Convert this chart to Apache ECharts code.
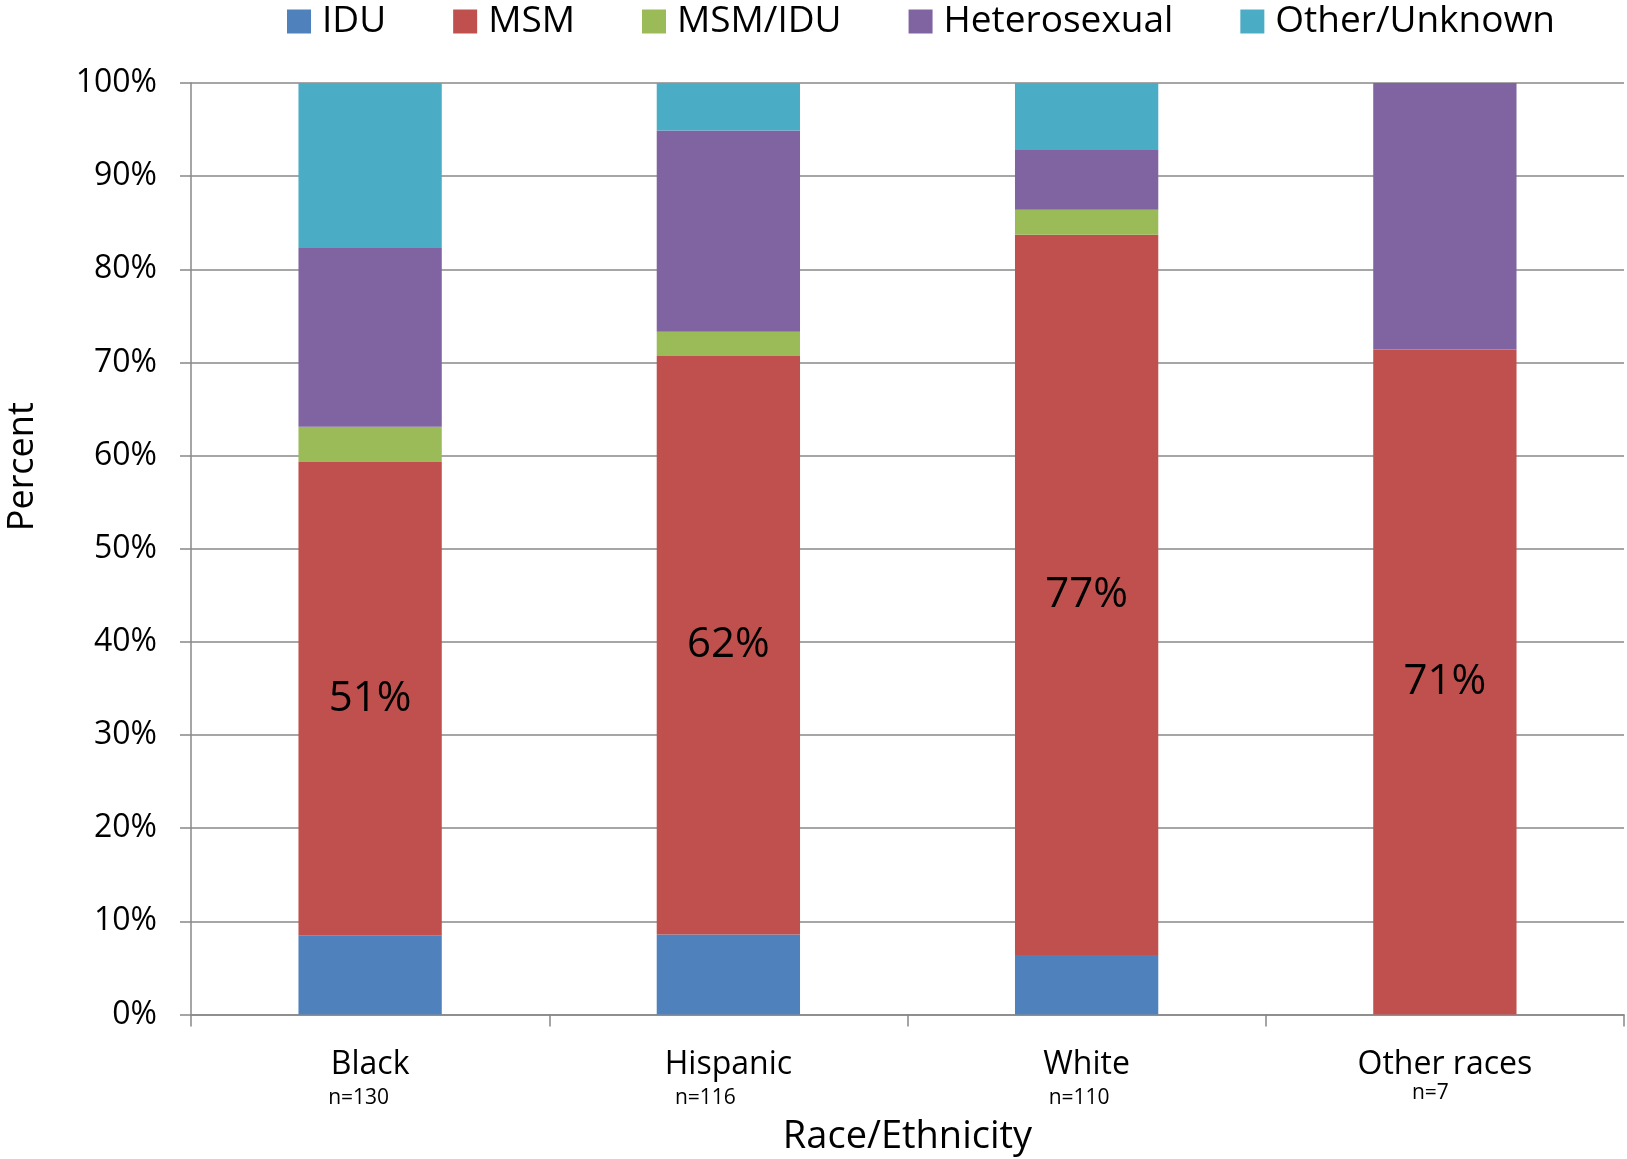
<!DOCTYPE html>
<html>
<head>
<meta charset="utf-8">
<script src="https://cdn.jsdelivr.net/npm/echarts@6/dist/echarts.min.js"></script>
<style>
html,body{margin:0;padding:0;background:#fff;}
#chart{width:1627px;height:1159px;}
</style>
</head>
<body>
<div id="chart"></div>
<script>
var categories = ['Black', 'Hispanic', 'White', 'Other races'];
var sampleSizes = ['n=130', 'n=116', 'n=110', 'n=7'];
var seriesNames = ['IDU', 'MSM', 'MSM/IDU', 'Heterosexual', 'Other/Unknown'];
var idu = [8.5, 8.6, 6.4, 0];
var msm = [50.8, 62.1, 77.3, 71.4];
var msmIdu = [3.8, 2.6, 2.7, 0];
var heterosexual = [19.2, 21.6, 6.4, 28.6];
var otherUnknown = [17.7, 5.1, 7.2, 0];
var msmLabels = ['51%', '62%', '77%', '71%'];
var yTicks = [0, 10, 20, 30, 40, 50, 60, 70, 80, 90, 100];

var colors = ['#4F81BD', '#C0504D', '#9BBB59', '#8064A2', '#4BACC6'];
var FONT = 'Open Sans';
var dataSets = [idu, msm, msmIdu, heterosexual, otherUnknown];

var series = seriesNames.map(function (name, i) {
  var s = {
    name: name,
    type: 'bar',
    stack: 'total',
    barWidth: '40%',
    itemStyle: { color: colors[i] },
    emphasis: { disabled: true },
    data: dataSets[i]
  };
  if (name === 'MSM') {
    s.label = {
      show: true,
      position: 'inside',
      color: '#000',
      fontFamily: FONT,
      fontSize: 42,
      formatter: function (p) { return msmLabels[p.dataIndex]; }
    };
  }
  return s;
});

function nStyle(padRight, lh) {
  return { fontFamily: FONT, fontSize: 21, color: '#000', lineHeight: lh, padding: [0, padRight, 0, 0] };
}

var chart = echarts.init(document.getElementById('chart'), null, { renderer: 'canvas' });
chart.setOption({
  animation: false,
  backgroundColor: '#fff',
  color: colors,
  legend: {
    data: seriesNames,
    left: 282,
    top: -2,
    itemWidth: 24,
    itemHeight: 24,
    itemGap: 67,
    icon: 'rect',
    textStyle: { fontFamily: FONT, fontSize: 37, color: '#000', padding: [0, 0, 0, 6] }
  },
  grid: { left: 191, right: 3, top: 83, bottom: 144.5, containLabel: false, outerBoundsMode: 'none' },
  xAxis: {
    type: 'category',
    data: categories,
    name: 'Race/Ethnicity',
    nameLocation: 'middle',
    nameGap: 104,
    nameTextStyle: { fontFamily: FONT, fontSize: 38, color: '#000' },
    axisLine: { lineStyle: { color: '#888', width: 1.5 } },
    axisTick: { show: true, length: 12, lineStyle: { color: '#888', width: 1.5 } },
    axisLabel: {
      margin: 31,
      formatter: function (v, i) { return '{c|' + v + '}\n{n' + i + '|' + sampleSizes[i] + '}'; },
      rich: {
        c: { fontFamily: FONT, fontSize: 32, color: '#000', lineHeight: 38 },
        n0: nStyle(23, 30),
        n1: nStyle(46, 30),
        n2: nStyle(15, 30),
        n3: nStyle(29, 20)
      }
    }
  },
  yAxis: {
    type: 'value',
    min: 0,
    max: 100,
    interval: 10,
    name: 'Percent',
    nameLocation: 'middle',
    nameRotate: 90,
    nameGap: 150,
    nameTextStyle: { fontFamily: FONT, fontSize: 36, color: '#000', padding: [0, 0, 0, 164] },
    axisLine: { show: true, lineStyle: { color: '#888', width: 1.5 } },
    axisTick: { show: true, length: 11, lineStyle: { color: '#888', width: 1.5 } },
    splitLine: { show: true, lineStyle: { color: '#888', width: 1.5 } },
    axisLabel: {
      margin: 34,
      fontFamily: FONT,
      fontSize: 32,
      color: '#000',
      formatter: function (v) { return yTicks.indexOf(v) >= 0 ? v + '%' : ''; }
    }
  },
  series: series
});
</script>
</body>
</html>
